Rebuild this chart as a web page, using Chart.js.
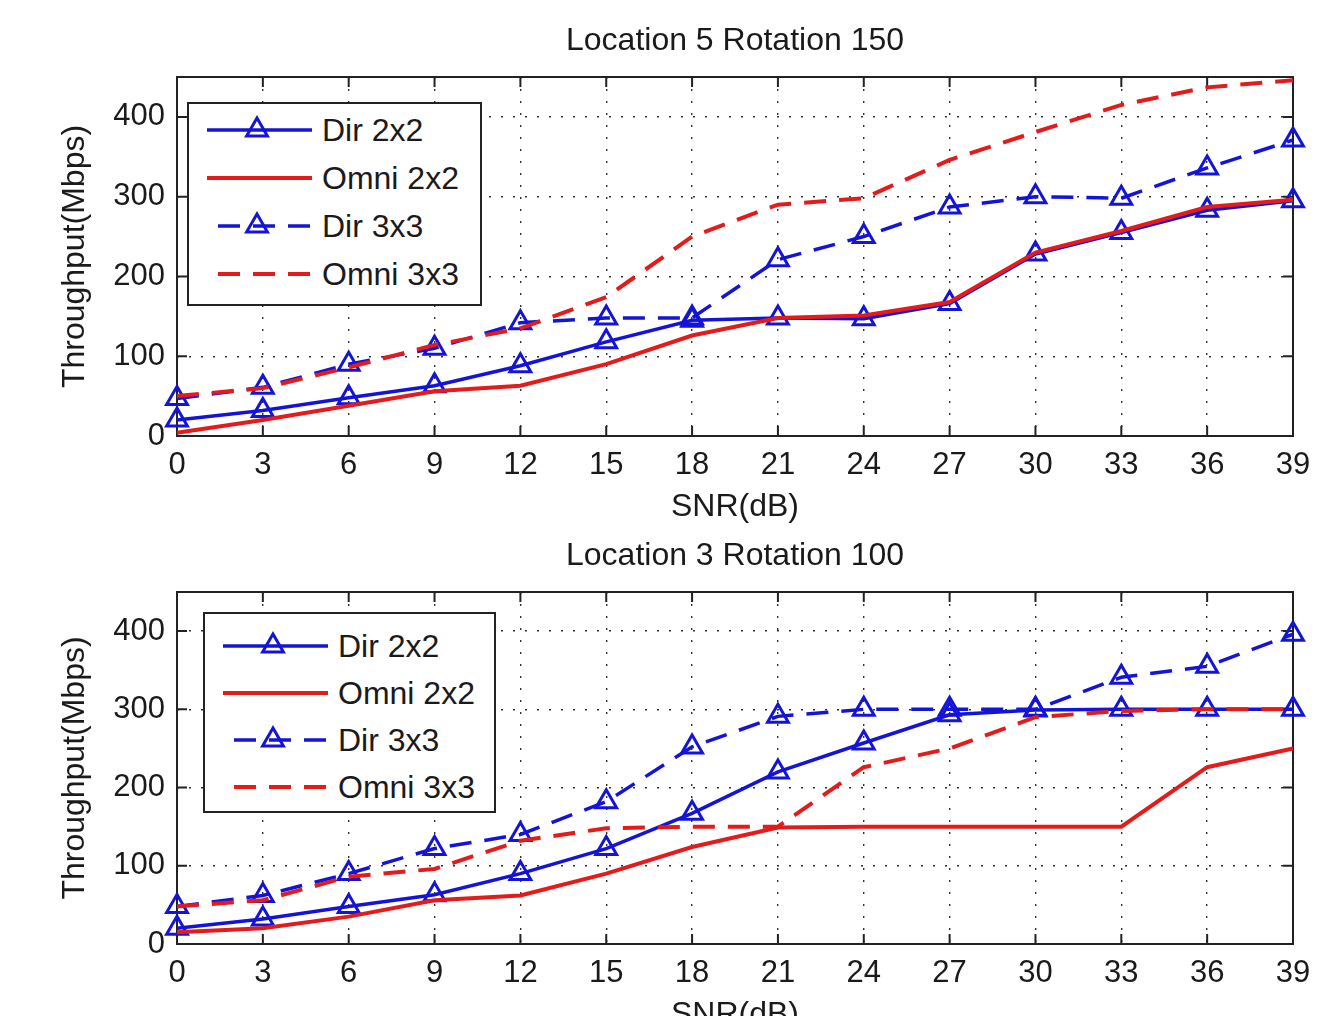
<!DOCTYPE html>
<html>
<head>
<meta charset="utf-8">
<title>Throughput vs SNR</title>
<script src="https://cdn.jsdelivr.net/npm/chart.js"></script>
<style>
body{margin:0;background:#fff;overflow:hidden;font-family:"Liberation Sans",Arial,sans-serif;}
#page{position:relative;width:1342px;height:1016px;overflow:hidden;background:#fff;}
canvas{position:absolute;left:0;}
#c1{top:0;}
#c2{top:515px;}
.legend{position:absolute;border:2px solid #222;background:#fff;box-sizing:border-box;}
.legend .row{display:flex;align-items:center;}
.legend svg{display:block;}
.legend span{font-size:32px;color:#1a1a1a;margin-left:10px;line-height:1;}
</style>
</head>
<body>
<div id="page">
<canvas id="c1" width="1342" height="530"></canvas>
<canvas id="c2" width="1342" height="523"></canvas>
<div class="legend" id="leg1"></div>
<div class="legend" id="leg2"></div>
</div>
<script>
const snr = ["0","3","6","9","12","15","18","21","24","27","30","33","36","39"];
const yTicks = [0,100,200,300,400];
const seriesNames = ["Dir 2x2","Omni 2x2","Dir 3x3","Omni 3x3"];

// Location 5 Rotation 150
const dir2x2Top  = [20,32,48,63,88,118,145,148,147,166,228,255,283,295];
const omni2x2Top = [4,20,38,56,63,90,126,148,151,168,230,257,287,296];
const dir3x3Top  = [47,61,90,110,142,148,148,221,250,287,300,298,336,371];
const omni3x3Top = [50,60,86,114,135,174,250,290,298,346,381,415,437,446];

// Location 3 Rotation 100
const dir2x2Bot  = [20,32,48,63,90,122,167,220,257,293,299,300,300,300];
const omni2x2Bot = [15,20,35,56,62,90,124,149,150,150,150,150,226,250];
const dir3x3Bot  = [48,62,90,122,140,182,252,291,300,300,300,341,355,396];
const omni3x3Bot = [48,56,86,96,132,148,150,150,226,250,290,298,300,300];

const BLUE = "#1414d8";
const RED = "#e41b1b";
const INK = "#1a1a1a";
const FONT = "'Liberation Sans', Arial, sans-serif";

function makeSet(i, values){
  const blue = i % 2 === 0;
  const dashed = i >= 2;
  return {
    label: seriesNames[i],
    data: values,
    borderColor: blue ? BLUE : RED,
    borderWidth: blue ? 3.5 : 4,
    borderDash: dashed ? [22,13] : [],
    pointStyle: "triangle",
    pointRadius: blue ? 12 : 0,
    pointHoverRadius: blue ? 12 : 0,
    pointBorderWidth: 3,
    pointBorderColor: BLUE,
    pointBackgroundColor: "rgba(0,0,0,0)",
    tension: 0,
    clip: false,
    order: 3 - i
  };
}

// axes box with inward tick marks, like the original plot
const frame = {
  id: "frame",
  beforeDatasetsDraw(chart){
    const {ctx, chartArea: a, scales} = chart;
    ctx.save();
    ctx.strokeStyle = "#222";
    ctx.lineWidth = 2;
    ctx.strokeRect(a.left, a.top, a.right - a.left, a.bottom - a.top);
    ctx.beginPath();
    snr.forEach((s, i) => {
      const x = scales.x.getPixelForTick(i);
      ctx.moveTo(x, a.bottom); ctx.lineTo(x, a.bottom - 10);
      ctx.moveTo(x, a.top); ctx.lineTo(x, a.top + 10);
    });
    yTicks.forEach(v => {
      const y = scales.y.getPixelForValue(v);
      ctx.moveTo(a.left, y); ctx.lineTo(a.left + 10, y);
      ctx.moveTo(a.right, y); ctx.lineTo(a.right - 10, y);
    });
    ctx.stroke();
    ctx.restore();
  }
};

function makeChart(id, title, sets){
  return new Chart(document.getElementById(id), {
    type: "line",
    data: {
      labels: snr,
      datasets: sets.map((v, i) => makeSet(i, v))
    },
    options: {
      responsive: false,
      animation: false,
      devicePixelRatio: 1,
      layout: {padding: {left: 0, right: 49, top: 0, bottom: 0}},
      plugins: {
        legend: {display: false},
        tooltip: {enabled: false},
        title: {
          display: true,
          text: title,
          fullSize: false,
          color: INK,
          font: {family: FONT, size: 32, weight: "normal"},
          padding: {top: 22, bottom: 16.6}
        }
      },
      scales: {
        x: {
          type: "category",
          offset: false,
          grid: {offset: false, color: "#333", lineWidth: 1.4, drawTicks: false},
          border: {display: false, dash: [2,10]},
          ticks: {color: INK, font: {family: FONT, size: 31}, padding: 11, maxRotation: 0, autoSkip: false},
          title: {display: true, text: "SNR(dB)", color: INK, font: {family: FONT, size: 32}, padding: {top: 0, bottom: 4}},
          afterFit(s){ s.height = 94; }
        },
        y: {
          min: 0,
          max: 450,
          afterBuildTicks(s){ s.ticks = yTicks.map(v => ({value: v})); },
          grid: {color: "#333", lineWidth: 1.4, drawTicks: false},
          border: {display: false, dash: [2,10]},
          ticks: {color: INK, font: {family: FONT, size: 31}, padding: 12},
          title: {display: true, text: "Throughput(Mbps)", color: INK, font: {family: FONT, size: 32}, padding: {top: 56, bottom: 0}},
          afterFit(s){ s.width = 177; }
        }
      }
    },
    plugins: [frame]
  });
}

makeChart("c1", "Location 5 Rotation 150", [dir2x2Top, omni2x2Top, dir3x3Top, omni3x3Top]);
makeChart("c2", "Location 3 Rotation 100", [dir2x2Bot, omni2x2Bot, dir3x3Bot, omni3x3Bot]);

// legend boxes inside the axes
function sample(i){
  const blue = i % 2 === 0;
  const dashed = i >= 2;
  const col = blue ? BLUE : RED;
  const x0 = dashed ? 11 : 0;
  let s = '<svg width="105" height="30" viewBox="0 0 105 30">';
  s += '<line x1="' + x0 + '" y1="15" x2="105" y2="15" stroke="' + col + '" stroke-width="' + (blue ? 3.5 : 4) + '"' + (dashed ? ' stroke-dasharray="22,13"' : '') + '/>';
  if (blue) s += '<polygon points="50,3 60.4,21 39.6,21" fill="none" stroke="' + BLUE + '" stroke-width="3"/>';
  return s + '</svg>';
}
function buildLegend(id, box){
  const el = document.getElementById(id);
  Object.assign(el.style, {left: box.left + "px", top: box.top + "px", width: box.width + "px", height: box.height + "px", paddingTop: box.padTop + "px"});
  el.innerHTML = seriesNames.map((n, i) =>
    '<div class="row" style="height:' + box.row + 'px;padding-left:' + box.padLeft + 'px">' + sample(i) + '<span>' + n + '</span></div>'
  ).join("");
}
buildLegend("leg1", {left: 187, top: 102, width: 295, height: 204, padTop: 2, padLeft: 18, row: 48});
buildLegend("leg2", {left: 203, top: 612, width: 293, height: 201, padTop: 8, padLeft: 18, row: 47});
</script>
</body>
</html>
